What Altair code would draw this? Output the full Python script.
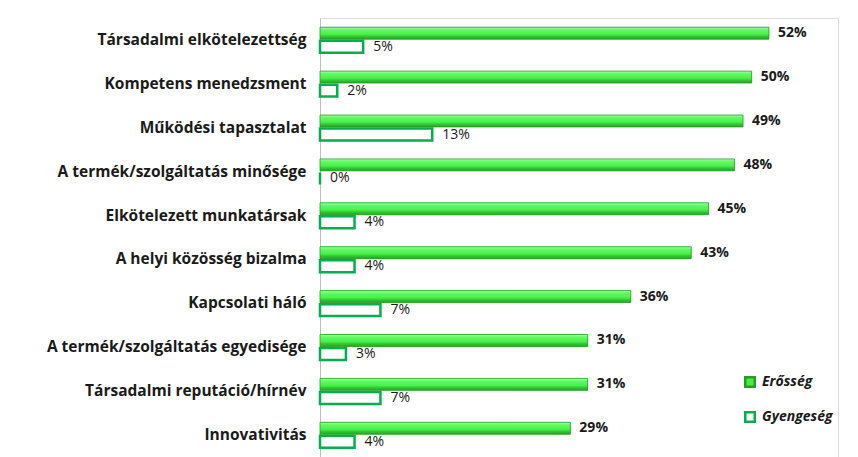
import altair as alt
import pandas as pd

categories = [
    "Társadalmi elkötelezettség",
    "Kompetens menedzsment",
    "Működési tapasztalat",
    "A termék/szolgáltatás minősége",
    "Elkötelezett munkatársak",
    "A helyi közösség bizalma",
    "Kapcsolati háló",
    "A termék/szolgáltatás egyedisége",
    "Társadalmi reputáció/hírnév",
    "Innovativitás",
]
strength = [52, 50, 49, 48, 45, 43, 36, 31, 31, 29]
weakness = [5, 2, 13, 0, 4, 4, 7, 3, 7, 4]
series = ["Erősség", "Gyengeség"]

rows = []
for c, s, w in zip(categories, strength, weakness):
    rows.append({"cat": c, "series": series[0], "val": s / 100})
    rows.append({"cat": c, "series": series[1], "val": w / 100})
df = pd.DataFrame(rows)

FONT = "Open Sans"

legend = alt.Legend(
    title=None, orient="none", legendX=423, legendY=357,
    symbolType="square", symbolSize=90, symbolStrokeWidth=2.5,
    labelFont=FONT, labelFontSize=14, labelFontStyle="italic",
    labelFontWeight="bold", labelColor="#1a1a1a", rowPadding=15,
    labelOffset=5, padding=0,
)

base = alt.Chart(df).encode(
    y=alt.Y("cat:N", sort=categories,
            scale=alt.Scale(paddingInner=0.42, paddingOuter=0.21),
            axis=alt.Axis(title=None, ticks=False, domainColor="#bfbfbf",
                          domainWidth=1, labelFont=FONT, labelFontSize=15.5,
                          labelFontWeight="bold", labelColor="#1a1a1a",
                          labelPadding=14, labelLimit=320)),
    yOffset=alt.YOffset("series:N", sort=series,
                        scale=alt.Scale(paddingInner=0.12)),
    x=alt.X("val:Q", scale=alt.Scale(domain=[0, 0.6]), axis=None),
)

bars = base.mark_bar().encode(
    fill=alt.Fill("series:N", sort=series,
                  scale=alt.Scale(domain=series, range=["#45ee45", "#ffffff"]),
                  legend=legend),
    stroke=alt.Stroke("series:N", sort=series,
                      scale=alt.Scale(domain=series, range=["#2b9a2b", "#00b050"]),
                      legend=legend),
    strokeWidth=alt.condition(alt.datum.series == series[1],
                              alt.value(2.5), alt.value(0)),
)

grad = alt.Gradient(
    gradient="linear", x1=0, x2=0, y1=0, y2=1,
    stops=[
        alt.GradientStop(offset=0, color="#b0ffb0"),
        alt.GradientStop(offset=0.2, color="#66fa66"),
        alt.GradientStop(offset=0.6, color="#48f048"),
        alt.GradientStop(offset=0.75, color="#34cc34"),
        alt.GradientStop(offset=1, color="#28a028"),
    ],
)
overlay = base.transform_filter(alt.datum.series == series[0]).mark_bar(
    fill=grad, stroke="#2b9a2b", strokeWidth=0.8
)

text_s = base.transform_filter(alt.datum.series == series[0]).mark_text(
    align="left", baseline="middle", dx=9, font=FONT, fontSize=14,
    fontWeight="bold", color="#1a1a1a"
).encode(text=alt.Text("val:Q", format=".0%"))

text_w = base.transform_filter(alt.datum.series == series[1]).mark_text(
    align="left", baseline="middle", dx=10, font=FONT, fontSize=14,
    color="#1a1a1a"
).encode(text=alt.Text("val:Q", format=".0%"))

chart = alt.layer(bars, overlay, text_s, text_w).properties(
    width=518, height=439,
    autosize=alt.AutoSizeParams(type="none"),
    padding={"left": 312, "top": 10, "right": 12, "bottom": 0},
).configure_view(stroke=None).configure(background="#ffffff")

chart.save("out.html", embed_options={"renderer": "svg", "actions": False})
